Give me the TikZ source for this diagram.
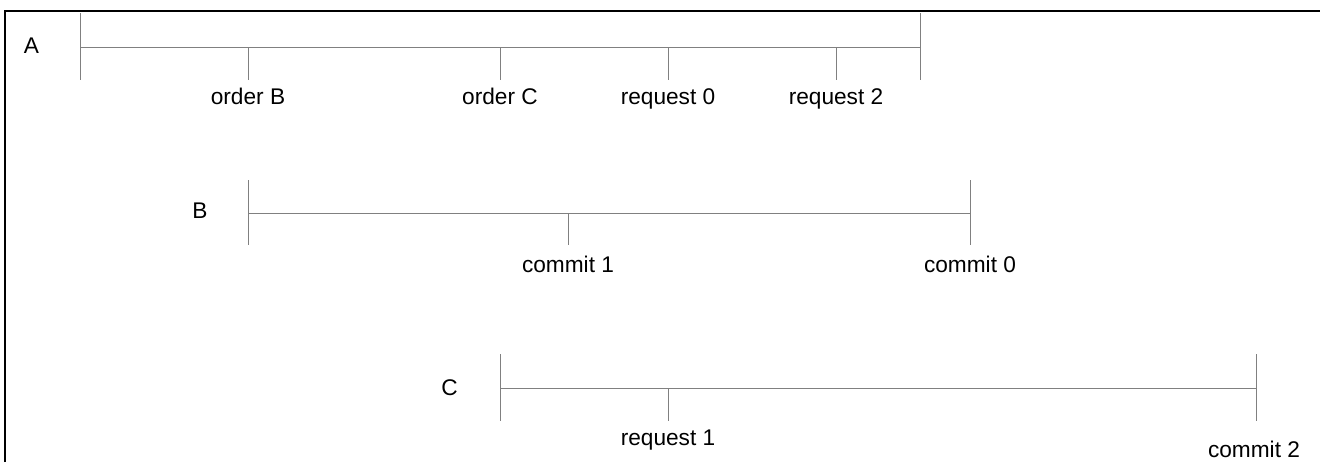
\documentclass[tikz,border=0pt]{standalone}
\usepackage{fontspec}
\setmainfont{Liberation Sans}
\tikzset{
  axis/.style={draw=black!50,line width=0.75pt},
  lbl/.style={anchor=base,inner sep=0pt}
}
\begin{document}
\begin{tikzpicture}[x=0.75pt,y=-0.75pt,font=\fontsize{17}{20}\selectfont]
  \useasboundingbox (0,0) rectangle (1320,462);
  \draw[line width=1.5pt] (5,462) -- (5,11) -- (1320,11);
  % process A
  \node[lbl] (A) at (31.5,53) {A};
  \coordinate (a0t) at (80,13);   \coordinate (a0) at (80,47);   \coordinate (a0b) at (80,80);
  \coordinate (a5t) at (920,13);  \coordinate (a5) at (920,47);  \coordinate (a5b) at (920,80);
  \coordinate (a1) at (248,47);   \coordinate (a1b) at (248,80);
  \coordinate (a2) at (500,47);   \coordinate (a2b) at (500,80);
  \coordinate (a3) at (668,47);   \coordinate (a3b) at (668,80);
  \coordinate (a4) at (836,47);   \coordinate (a4b) at (836,80);
  \path[axis] (a0) edge (a5) (a0t) edge (a0b) (a5t) edge (a5b)
    (a1) edge (a1b) (a2) edge (a2b) (a3) edge (a3b) (a4) edge (a4b);
  \node[lbl] (ordB) at (248,104) {order B};
  \node[lbl] (ordC) at (500,104) {order C};
  \node[lbl] (req0) at (668,104) {request 0};
  \node[lbl] (req2) at (836,104) {request 2};
  % process B
  \node[lbl] (B) at (200,218) {B};
  \coordinate (b0t) at (248,180);  \coordinate (b0) at (248,213);  \coordinate (b0b) at (248,245);
  \coordinate (b2t) at (970,180);  \coordinate (b2) at (970,213);  \coordinate (b2b) at (970,245);
  \coordinate (b1) at (568,213);   \coordinate (b1b) at (568,245);
  \path[axis] (b0) edge (b2) (b0t) edge (b0b) (b2t) edge (b2b) (b1) edge (b1b);
  \node[lbl] (com1) at (568,272) {commit 1};
  \node[lbl] (com0) at (970,272) {commit 0};
  % process C
  \node[lbl] (C) at (449.5,395) {C};
  \coordinate (c0t) at (500,354);  \coordinate (c0) at (500,388);  \coordinate (c0b) at (500,421);
  \coordinate (c2t) at (1256,354); \coordinate (c2) at (1256,388); \coordinate (c2b) at (1256,421);
  \coordinate (c1) at (668,388);   \coordinate (c1b) at (668,421);
  \path[axis] (c0) edge (c2) (c0t) edge (c0b) (c2t) edge (c2b) (c1) edge (c1b);
  \node[lbl] (req1) at (668,445) {request 1};
  \node[lbl] (com2) at (1254,457) {commit 2};
\end{tikzpicture}
\end{document}
